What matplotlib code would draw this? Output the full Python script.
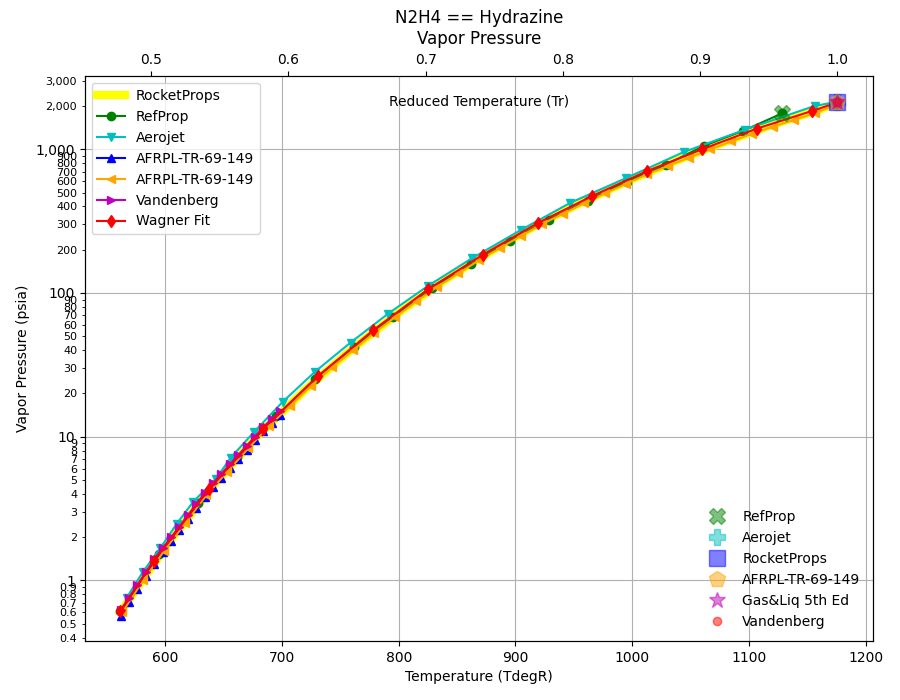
import matplotlib
matplotlib.use('Agg')
import matplotlib.pyplot as plt
from matplotlib.ticker import FuncFormatter

# critical temperature (degR) used for the reduced temperature axis
Tc = 1175.7

# RocketProps (thick yellow line)
t_rp = [561.5, 600, 640, 680, 720, 760, 800, 840, 880, 920, 960, 1000, 1040, 1080, 1120, 1160, 1175.7]
p_rp = [0.60, 1.70, 4.48, 10.3, 21.3, 40.7, 73.0, 124.0, 197.0, 303.0, 440.0, 620.0, 846.0, 1130.0, 1480.0, 1880.0, 2109.0]

# RefProp
t_ref = [561.5, 594.9, 628.2, 661.6, 694.9, 728.3, 761.7, 795.0, 828.4, 861.8, 895.1, 928.5, 961.8, 995.2, 1028.6, 1061.9, 1095.3, 1128.6]
p_ref = [0.61, 1.53, 3.47, 7.18, 13.9, 25.3, 42.2, 68.1, 108.0, 160.0, 230.0, 323.0, 440.0, 596.0, 778.0, 1059.0, 1346.0, 1778.0]

# Aerojet
t_aj = [567.0, 580.8, 595.7, 609.6, 624.0, 643.0, 656.0, 676.0, 700.6, 728.2, 758.7, 790.9, 825.0, 863.0, 904.9, 947.0, 994.6, 1044.4, 1096.6, 1157.0, 1175.7]
p_aj = [0.76, 1.15, 1.68, 2.47, 3.54, 5.05, 7.15, 10.8, 17.5, 28.3, 45.2, 71.8, 112.0, 175.0, 275.0, 424.0, 629.0, 958.0, 1368.0, 2009.0, 2130.0]

# AFRPL-TR-69-149 (blue)
t_af1 = [561.6, 568.8, 576.0, 583.2, 590.4, 597.6, 604.8, 612.0, 619.2, 626.4, 633.6, 640.8, 648.0, 655.2, 662.4, 669.6, 676.8, 684.0, 691.2, 698.4]
p_af1 = [0.57, 0.71, 0.87, 1.07, 1.31, 1.57, 1.87, 2.23, 2.67, 3.19, 3.80, 4.47, 5.19, 6.03, 7.00, 8.13, 9.45, 10.97, 12.48, 14.2]

# AFRPL-TR-69-149 (orange)
t_af2 = [563, 581, 599, 617, 635, 653, 671, 689, 707, 725, 743, 761, 779, 797, 815, 833, 851, 869, 887, 905,
         923, 941, 959, 977, 995, 1013, 1031, 1049, 1067, 1085, 1103, 1121, 1139, 1157, 1175.7]
p_af2 = [0.60, 1.00, 1.61, 2.50, 3.90, 5.70, 8.29, 11.9, 16.4, 22.6, 30.4, 40.1, 52.9, 68.0, 87.4, 110.6, 136.7, 169.3,
         206.0, 250.0, 302.0, 357.0, 422.0, 494.0, 576.0, 671.0, 767.0, 876.0, 998.0, 1133.0, 1287.0, 1440.0, 1604.0,
         1786.0, 2050.0]

# Vandenberg
t_vb = [561.6, 568.8, 576.0, 583.2, 590.4, 597.6, 604.8, 612.0, 619.2, 626.4, 633.6, 640.8, 648.0, 655.2, 662.4, 669.6, 676.8, 684.0, 691.2, 698.4]
p_vb = [0.62, 0.76, 0.93, 1.14, 1.40, 1.67, 1.99, 2.37, 2.84, 3.39, 4.04, 4.75, 5.52, 6.41, 7.44, 8.64, 10.0, 11.7, 13.3, 15.1]

# Wagner Fit
t_wag = [561.5, 590, 637, 684, 731, 778, 825, 872, 919, 966, 1013, 1060, 1107, 1154, 1175.7]
p_wag = [0.61, 1.36, 4.3, 11.4, 26.5, 55.0, 106.0, 184.5, 306.0, 474.0, 706.0, 1000.0, 1393.0, 1845.0, 2110.0]

# critical points
crit_names = ['RefProp', 'Aerojet', 'RocketProps', 'AFRPL-TR-69-149', 'Gas&Liq 5th Ed', 'Vandenberg']
crit_t = [1128.6, 1175.7, 1175.7, 1175.7, 1175.7, 1175.7]
crit_p = [1790.0, 2133.0, 2133.0, 2133.0, 2133.0, 2133.0]
crit_style = [('g', 'X', 12), ('c', 'P', 12), ('b', 's', 12), ('orange', 'p', 12), ('m', '*', 12), ('r', 'o', 6)]

fig, ax = plt.subplots(figsize=(9, 7), dpi=100)
fig.subplots_adjust(left=0.094, right=0.97, top=0.891, bottom=0.084)

ax.semilogy(t_rp, p_rp, '-', color='yellow', linewidth=6, label='RocketProps')
ax.semilogy(t_ref, p_ref, 'g-o', label='RefProp')
ax.semilogy(t_aj, p_aj, 'c-v', label='Aerojet')
ax.semilogy(t_af1, p_af1, 'b-^', label='AFRPL-TR-69-149')
ax.semilogy(t_af2, p_af2, '-<', color='orange', label='AFRPL-TR-69-149')
ax.semilogy(t_vb, p_vb, 'm->', label='Vandenberg')
ax.semilogy(t_wag, p_wag, 'r-d', label='Wagner Fit')
leg1 = ax.legend(loc='upper left')

crit_handles = []
for name, t, p, (c, m, ms) in zip(crit_names, crit_t, crit_p, crit_style):
    h, = ax.plot([t], [p], linestyle='none', marker=m, color=c, markersize=ms, alpha=0.5, label=name)
    crit_handles.append(h)
ax.legend(handles=crit_handles, loc='lower right', frameon=False)
ax.add_artist(leg1)

fmt = FuncFormatter(lambda v, pos: '{:,g}'.format(v))
ax.yaxis.set_major_formatter(fmt)
ax.yaxis.set_minor_formatter(fmt)
ax.tick_params(axis='y', which='minor', labelsize=8)
ax.grid(True)
ax.set_xlabel('Temperature (TdegR)')
ax.set_ylabel('Vapor Pressure (psia)')
ax.text(0.5, 0.955, 'Reduced Temperature (Tr)', transform=ax.transAxes, ha='center', va='center', fontsize=10)

ax2 = ax.twiny()
x0, x1 = ax.get_xlim()
ax2.set_xlim(x0 / Tc, x1 / Tc)
ax2.set_title('N2H4 == Hydrazine\nVapor Pressure')

fig.savefig('out.png')
